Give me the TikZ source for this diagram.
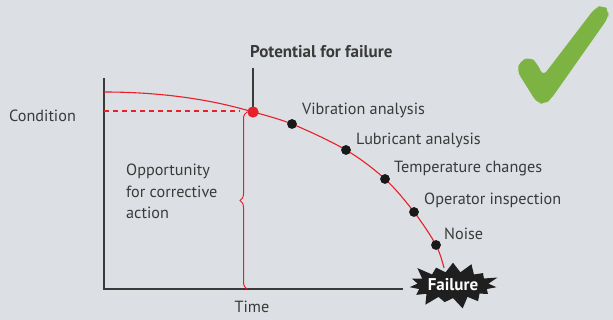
\documentclass[tikz,border=0pt]{standalone}
\usepackage{fontspec}
\setmainfont{PT Sans}
\usetikzlibrary{decorations.pathreplacing,shapes.symbols}
\definecolor{bg}{HTML}{DCDFE3}
\definecolor{txt}{HTML}{3A3A3A}
\definecolor{cred}{HTML}{E8202A}
\definecolor{cgreen}{HTML}{7CB342}
\begin{document}
\begin{tikzpicture}[x=1pt,y=-1pt,
  lbl/.style={font=\fontsize{16.2}{18}\selectfont, text=txt, inner sep=0pt},
  dot/.style={circle, fill=black!90, minimum size=9.5pt, inner sep=0pt},
  axis/.style={draw=txt, line width=1.2pt}]
\fill[bg] (0,0) rectangle (613,320);
\useasboundingbox (0,0) rectangle (613,320);
% check mark
\fill[cgreen, rounded corners=6pt] (537,103) -- (517,71) -- (520,61) -- (530,57) -- (537,63) -- (543,76) -- (595,8) -- (603,5) -- (609,11) -- (608,18) -- (551,99) -- (545,104) -- cycle;
% axes
\coordinate (ytop) at (104,78);
\coordinate (orig) at (104,289);
\coordinate (xend) at (403,289);
\draw[axis] (ytop) -- (orig) -- (xend);
% curve points
\coordinate (c0) at (104,92);
\node[dot, fill=cred, minimum size=11pt] (pf) at (253,112) {};
\node[dot] (d1) at (292,124) {};
\node[dot] (d2) at (346,150) {};
\node[dot] (d3) at (385,179) {};
\node[dot] (d4) at (414,212) {};
\node[dot] (d5) at (436,245) {};
\coordinate (c7) at (444,268);
\draw[cred, line width=1.1pt] (c0) .. controls (165,92) and (215,100.5) .. (pf.center);
\draw[cred, line width=1.1pt] plot[smooth, tension=0.55] coordinates {(pf.center) (d1.center) (d2.center) (d3.center) (d4.center) (d5.center) (c7)};
\foreach \n in {d1,d2,d3,d4,d5} \node[dot] at (\n) {};
% dashed level
\coordinate (dl) at (104,111);
\coordinate (dr) at (240,111);
\draw[cred, line width=1.1pt, dash pattern=on 5pt off 4pt] (dl) -- (dr);
% brace
\coordinate (bb) at (247,289);
\coordinate (bt) at (247,112);
\draw[cred, line width=1pt, decorate, decoration={brace, amplitude=7pt}] (bb) -- (bt);
% potential label
\node[lbl, font=\fontsize{17}{19}\selectfont\bfseries, anchor=west] (pot) at (250,52) {Potential for failure};
\coordinate (pl) at (253,68);
\draw[txt, line width=1.4pt] (pl) -- (pf.center);
\node[dot, fill=cred, minimum size=11pt] at (pf) {};
% labels
\node[lbl, anchor=west] (cond) at (9,116) {Condition};
\node[lbl] (time) at (252,307) {Time};
\node[lbl, anchor=west] (l1) at (302,110) {Vibration analysis};
\node[lbl, anchor=west] (l2) at (356,140) {Lubricant analysis};
\node[lbl, anchor=west] (l3) at (394,169) {Temperature changes};
\node[lbl, anchor=west] (l4) at (424,200) {Operator inspection};
\node[lbl, anchor=west] (l5) at (444,234) {Noise};
\node[lbl, anchor=north west, align=left, font=\fontsize{16.2}{21.5}\selectfont] (opp) at (126,164) {Opportunity\\for corrective\\action};
% failure burst
\node[starburst, starburst points=15, starburst point height=13pt, fill=black!88, minimum width=94pt, minimum height=52pt, inner sep=0pt, text=white, font=\fontsize{17}{19}\selectfont\bfseries] (fail) at (453,285) {Failure};
\end{tikzpicture}
\end{document}
